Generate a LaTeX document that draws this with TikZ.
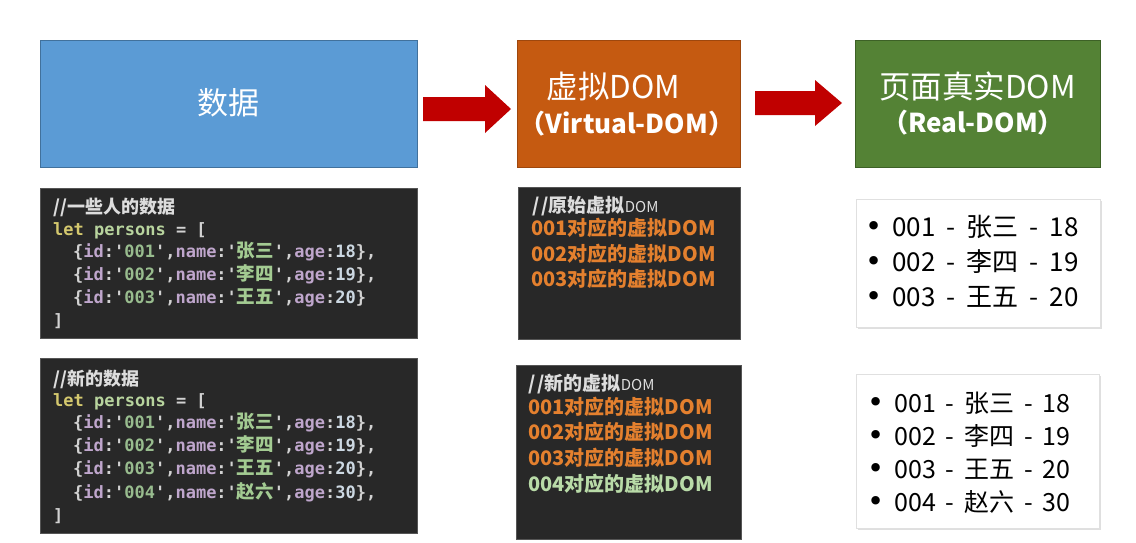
\documentclass[tikz,border=0pt]{standalone}
\usepackage{fontspec}
\setmainfont{Noto Sans CJK SC}
\setmonofont{DejaVu Sans Mono}
\newfontfamily\cjk{Noto Sans CJK SC}
\newfontfamily\djv{DejaVu Sans}
\usetikzlibrary{shadows}
\definecolor{blueF}{HTML}{5B9BD5}
\definecolor{blueD}{HTML}{41719C}
\definecolor{orangeF}{HTML}{C55A11}
\definecolor{orangeD}{HTML}{9E470D}
\definecolor{greenF}{HTML}{548235}
\definecolor{greenD}{HTML}{3D6126}
\definecolor{arrowR}{HTML}{C00000}
\definecolor{codebg}{HTML}{282828}
\definecolor{codebd}{HTML}{555555}
\definecolor{cmt}{HTML}{DDDDDD}
\definecolor{kw}{HTML}{D4C86E}
\definecolor{vr}{HTML}{B8D49E}
\definecolor{pu}{HTML}{D2D2D2}
\definecolor{pr}{HTML}{BFA6CC}
\definecolor{st}{HTML}{98BC8E}
\definecolor{zhg}{HTML}{A3CB92}
\definecolor{nu}{HTML}{CCD8E2}
\definecolor{vorange}{HTML}{E4802E}
\definecolor{vgreen}{HTML}{B9DBA8}
\newcommand\zh[1]{{\cjk\bfseries\fontsize{18.5}{23}\selectfont #1}}
\newcommand\prow[4]{\textcolor{pu}{\{}\textcolor{pr}{id}\textcolor{pu}{:'}\textcolor{st}{#1}\textcolor{pu}{',}\textcolor{pr}{name}\textcolor{pu}{:'}\textcolor{zhg}{\zh{#2}}\textcolor{pu}{',}\textcolor{pr}{age}\textcolor{pu}{:}\textcolor{nu}{#3}\textcolor{pu}{\}#4}}
\newcommand\letline{\textcolor{kw}{let} \textcolor{vr}{persons} \textcolor{pu}{= [}}
\newcommand\rdashA{\hspace{11pt}-\hspace{11pt}}
\newcommand\rdashB{\hspace{9.8pt}-\hspace{9.8pt}}
\newcommand\bul{{\djv\fontsize{29}{30}\selectfont •}\hspace{10pt}}
\begin{document}
\begin{tikzpicture}[x=1pt,y=-1pt,
  hbox/.style={rectangle, line width=0.8pt, inner sep=0pt},
  codebox/.style={rectangle, fill=codebg, draw=codebd, line width=0.8pt, inner sep=0pt},
  realbox/.style={rectangle, fill=white, draw=black!12, line width=0.5pt, inner sep=0pt,
    drop shadow={opacity=0.25, shadow xshift=1.5pt, shadow yshift=-1.5pt}},
  txt/.style={anchor=base west, inner sep=0pt},
  codetxt/.style={txt, font=\ttfamily\bfseries\fontsize{17}{23}\selectfont},
  cmttxt/.style={txt, text=cmt, font=\cjk\bfseries\fontsize{18}{23}\selectfont},
  vtxt/.style={txt, font=\cjk\bfseries\fontsize{20}{26}\selectfont},
  rtxt/.style={txt, font=\cjk\fontsize{26}{30}\selectfont, text=black},
  rtxtb/.style={txt, font=\cjk\fontsize{25}{30}\selectfont, text=black},
  blockarrow/.style={fill=arrowR, draw=none}
]
\useasboundingbox[fill=white] (0,0) rectangle (1136,542);

% header boxes
\node[hbox, fill=blueF, draw=blueD, minimum width=377pt, minimum height=127pt] (data) at (228.5,103.5) {};
\node[text=white, font=\cjk\fontsize{31}{36}\selectfont] (dataT) at (228.5,103) {数据};

\node[hbox, fill=orangeF, draw=orangeD, minimum width=223pt, minimum height=127pt] (vdom) at (628.5,103.5) {};
\node[text=white, font=\cjk\fontsize{31.5}{36}\selectfont] (vdomT1) at (613.5,87) {虚拟DOM};
\node[text=white, font=\cjk\bfseries\fontsize{26}{30}\selectfont] (vdomT2) at (627,124) {（Virtual-DOM）};

\node[hbox, fill=greenF, draw=greenD, minimum width=245pt, minimum height=127pt] (rdom) at (977.5,103.5) {};
\node[text=white, font=\cjk\fontsize{31.5}{36}\selectfont] (rdomT1) at (977.5,86) {页面真实DOM};
\node[text=white, font=\cjk\bfseries\fontsize{26}{30}\selectfont] (rdomT2) at (973,123) {（Real-DOM）};

% block arrows
\fill[blockarrow] (423,97) -- (485,97) -- (485,85) -- (511,109) -- (485,133) -- (485,121) -- (423,121) -- cycle;
\fill[blockarrow] (755,91) -- (815,91) -- (815,80) -- (842,103) -- (815,126) -- (815,115) -- (755,115) -- cycle;

% code box 1
\node[codebox, minimum width=377pt, minimum height=150pt] (code1) at (228.5,263) {};
\node[cmttxt] (c1l1) at (53,213) {//一些人的数据};
\node[codetxt] (c1l2) at (53,235) {\letline};
\node[codetxt] (c1l3) at (73,257) {\prow{001}{张三}{18}{,}};
\node[codetxt] (c1l4) at (73,280) {\prow{002}{李四}{19}{,}};
\node[codetxt] (c1l5) at (73,303) {\prow{003}{王五}{20}{}};
\node[codetxt, text=pu] (c1l6) at (53,326) {]};

% code box 2
\node[codebox, minimum width=377pt, minimum height=175pt] (code2) at (228.5,445.5) {};
\node[cmttxt] (c2l1) at (53,385) {//新的数据};
\node[codetxt] (c2l2) at (53,406) {\letline};
\node[codetxt] (c2l3) at (73,428) {\prow{001}{张三}{18}{,}};
\node[codetxt] (c2l4) at (73,451) {\prow{002}{李四}{19}{,}};
\node[codetxt] (c2l5) at (73,474) {\prow{003}{王五}{20}{,}};
\node[codetxt] (c2l6) at (73,498) {\prow{004}{赵六}{30}{,}};
\node[codetxt, text=pu] (c2l7) at (53,521) {]};

% virtual dom box 1
\node[codebox, minimum width=222pt, minimum height=152pt] (vbox1) at (629,263) {};
\node[cmttxt, font=\cjk\bfseries\fontsize{19}{23}\selectfont] (v1l1) at (532,212) {/\hspace{2pt}/原始虚拟{\mdseries\fontsize{15}{18}\selectfont DOM}};
\node[vtxt, text=vorange] (v1l2) at (531,235.5) {001对应的虚拟DOM};
\node[vtxt, text=vorange] (v1l3) at (531,261.5) {002对应的虚拟DOM};
\node[vtxt, text=vorange] (v1l4) at (531,286.5) {003对应的虚拟DOM};

% virtual dom box 2
\node[codebox, minimum width=225pt, minimum height=174pt] (vbox2) at (628.5,452) {};
\node[cmttxt, font=\cjk\bfseries\fontsize{19}{23}\selectfont] (v2l1) at (528,390) {/\hspace{2pt}/新的虚拟{\mdseries\fontsize{15}{18}\selectfont DOM}};
\node[vtxt, text=vorange] (v2l2) at (528,414) {001对应的虚拟DOM};
\node[vtxt, text=vorange] (v2l3) at (528,439.5) {002对应的虚拟DOM};
\node[vtxt, text=vorange] (v2l4) at (528,465.5) {003对应的虚拟DOM};
\node[vtxt, text=vgreen] (v2l5) at (528,491.5) {004对应的虚拟DOM};

% real dom box 1
\node[realbox, minimum width=244pt, minimum height=128pt] (real1) at (978,263) {};
\node[rtxt] (r1l1) at (865,236) {\bul 001\rdashA 张三\rdashA 18};
\node[rtxt] (r1l2) at (865,271) {\bul 002\rdashA 李四\rdashA 19};
\node[rtxt] (r1l3) at (865,306) {\bul 003\rdashA 王五\rdashA 20};

% real dom box 2
\node[realbox, minimum width=243pt, minimum height=154pt] (real2) at (977.5,451) {};
\node[rtxtb] (r2l1) at (867,412) {\bul 001\rdashB 张三\rdashB 18};
\node[rtxtb] (r2l2) at (867,445) {\bul 002\rdashB 李四\rdashB 19};
\node[rtxtb] (r2l3) at (867,478) {\bul 003\rdashB 王五\rdashB 20};
\node[rtxtb] (r2l4) at (867,511) {\bul 004\rdashB 赵六\rdashB 30};
\end{tikzpicture}
\end{document}
